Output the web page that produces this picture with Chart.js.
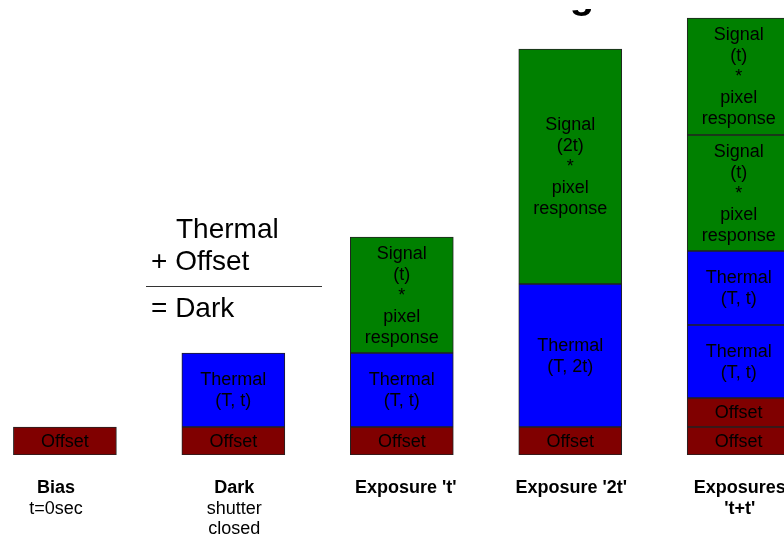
<!DOCTYPE html>
<html>
<head>
<meta charset="utf-8">
<script src="https://cdn.jsdelivr.net/npm/chart.js@4"></script>
<style>
  body { margin: 0; background: #fff; }
  canvas { display: block; }
</style>
</head>
<body>
<canvas id="myChart" width="784" height="536"></canvas>
<script>
// categories along the bottom (bold lines, then plain lines)
const boldLabels = [["Bias"], ["Dark"], ["Exposure 't'"], ["Exposure '2t'"], ["Exposures", "'t+t'"]];
const plainLabels = [["t=0sec"], ["shutter", "closed"], [], [], []];

// stacked pieces, bottom to top
const offset1 = [28, 28, 28, 28, 28];
const offset2 = [null, null, null, null, 29];
const thermal1 = [null, 74, 74, 143, 73];
const thermal2 = [null, null, null, null, 74];
const signal1 = [null, null, 116, 235, 116];
const signal2 = [null, null, null, null, 117];

// text written inside each piece
const offsetText = [["Offset"], ["Offset"], ["Offset"], ["Offset"], ["Offset"]];
const thermalText = [null, ["Thermal", "(T, t)"], ["Thermal", "(T, t)"], ["Thermal", "(T, 2t)"], ["Thermal", "(T, t)"]];
const signalText = [null, null, ["Signal", "(t)", "*", "pixel", "response"], ["Signal", "(2t)", "*", "pixel", "response"], ["Signal", "(t)", "*", "pixel", "response"]];

// the side note
const noteLines = ["Thermal", "+ Offset", "= Dark"];

const ctx = document.getElementById("myChart");
const font = "'Liberation Sans', Arial, sans-serif";

const toPoints = (arr) => arr.map((v, i) => ({ x: i, y: v }));

const makeSet = (label, values, color, texts) => ({
  label: label,
  data: toPoints(values),
  backgroundColor: color,
  borderColor: "#222",
  borderWidth: 1,
  borderSkipped: false,
  barThickness: 103,
  texts: texts,
});

const segmentLabels = {
  id: "segmentLabels",
  afterDatasetsDraw(chart) {
    const c = chart.ctx;
    c.save();
    c.font = "18px " + font;
    c.fillStyle = "#000";
    c.textAlign = "center";
    c.textBaseline = "middle";
    chart.data.datasets.forEach((ds, di) => {
      const meta = chart.getDatasetMeta(di);
      meta.data.forEach((bar, i) => {
        const lines = ds.texts[i];
        if (ds.data[i].y == null || !lines) return;
        const mid = (bar.y + bar.base) / 2;
        const lh = 21;
        lines.forEach((t, k) => {
          c.fillText(t, bar.x, mid + (k - (lines.length - 1) / 2) * lh + 1);
        });
      });
    });
    c.restore();
  },
};

const extras = {
  id: "extras",
  afterDraw(chart) {
    const c = chart.ctx;
    const xs = chart.scales.x;
    c.save();
    // category labels
    c.textAlign = "center";
    c.textBaseline = "middle";
    c.fillStyle = "#000";
    boldLabels.forEach((lines, i) => {
      const x = xs.getPixelForValue(i) + (i === 0 ? -9 : i === 2 ? 4 : 1);
      let y = 488;
      c.font = "bold 18px " + font;
      lines.forEach((t) => { c.fillText(t, x, y); y += 21; });
      c.font = "18px " + font;
      plainLabels[i].forEach((t) => { c.fillText(t, x, y); y += 20; });
    });

    // side note
    c.textAlign = "left";
    c.textBaseline = "alphabetic";
    c.font = "28px " + font;
    c.fillText(noteLines[0], 176, 238);
    c.fillText(noteLines[1], 151, 270);
    c.fillText(noteLines[2], 151, 317);
    c.strokeStyle = "#333";
    c.lineWidth = 1;
    c.beginPath();
    c.moveTo(146, 286.5);
    c.lineTo(322, 286.5);
    c.stroke();

    // cut-off title fragment at the top
    c.beginPath();
    c.rect(560, 9, 50, 15);
    c.clip();
    c.font = "bold 40px " + font;
    c.textAlign = "center";
    c.fillText("g", 582, 8);
    c.restore();
  },
};

new Chart(ctx, {
  type: "bar",
  data: {
    datasets: [
      makeSet("Offset", offset1, "#800000", offsetText),
      makeSet("Offset 2", offset2, "#800000", offsetText),
      makeSet("Thermal", thermal1, "#0000ff", thermalText),
      makeSet("Thermal 2", thermal2, "#0000ff", thermalText),
      makeSet("Signal", signal1, "#008000", signalText),
      makeSet("Signal 2", signal2, "#008000", signalText),
    ],
  },
  options: {
    responsive: false,
    animation: false,
    layout: { padding: { left: 0, right: 0, top: 0, bottom: 81 } },
    plugins: {
      legend: { display: false },
      tooltip: { enabled: false },
    },
    scales: {
      x: {
        type: "linear",
        stacked: true,
        offset: false,
        min: -0.3853,
        max: 4.2689,
        display: false,
      },
      y: {
        stacked: true,
        min: 0,
        max: 455,
        display: false,
      },
    },
  },
  plugins: [segmentLabels, extras],
});
</script>
</body>
</html>
